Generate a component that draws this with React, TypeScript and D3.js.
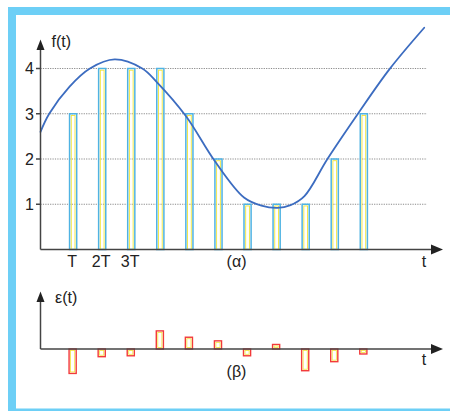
import React from "react";
import * as d3 from "d3";

// Quantized samples at t = k*T (k = 1..11)
const sampleK = [1, 2, 3, 4, 5, 6, 7, 8, 9, 10, 11];
const sampleValues = [3, 4, 4, 4, 3, 2, 1, 1, 1, 2, 3];
// Quantization error ε at each sample
const errorValues = [-0.54, -0.17, -0.15, 0.4, 0.26, 0.18, -0.15, 0.1, -0.48, -0.28, -0.11];
// Continuous signal f(t) (t in units of T)
const curveT = [0, 0.3, 1, 1.7, 2.55, 3.5, 4, 5, 6, 7, 7.6, 8.15, 8.6, 9.08, 9.87, 10.92, 12.0, 13.2];
const curveF = [2.6, 3.0, 3.6, 4.0, 4.2, 4.0, 3.7, 2.95, 1.95, 1.15, 0.97, 0.92, 0.98, 1.18, 2.0, 3.0, 3.98, 4.9];
const yTicks = [1, 2, 3, 4];
const xTickLabels = ["T", "2T", "3T"];

const FONT = "'Liberation Sans', Arial, sans-serif";
const FRAME = "#6dcff6";
const AXIS = "#444";
const BLUE = "#4fb3e3";
const YELLOW = "#f2e53a";
const RED = "#f23a3a";
const CURVE = "#3c6cc0";

export default function App() {
  const x = d3.scaleLinear().domain([0, 14]).range([40.5, 40.5 + 14 * 29.07]);
  const y = d3.scaleLinear().domain([0, 4]).range([249.5, 68.5]);
  const e = d3.scaleLinear().domain([0, 1]).range([349, 349 - 45.25]);
  const barW = 0.245; // in T units

  const line = d3
    .line<number>()
    .x((_, i) => x(curveT[i]))
    .y((d) => y(d))
    .curve(d3.curveCatmullRom.alpha(0.5));

  const xEnd = 443;
  const gridEnd = 427;

  return (
    <svg
      width={450}
      height={411}
      style={{ position: "absolute", left: 0, top: 0, background: "#fff" }}
      fontFamily={FONT}
    >
      {/* frame */}
      <rect x={8} y={7} width={442} height={8} fill={FRAME} />
      <rect x={8} y={7} width={8} height={404} fill={FRAME} />
      <rect x={8} y={408.5} width={442} height={3} fill={FRAME} />

      {/* gridlines */}
      {yTicks.map((v) => (
        <line
          key={"g" + v}
          x1={x(0)}
          x2={gridEnd}
          y1={y(v)}
          y2={y(v)}
          stroke="#8a8a8a"
          strokeWidth={1}
          strokeDasharray="1.2,1.2"
        />
      ))}

      {/* upper bars */}
      {sampleK.map((k, i) => {
        const x0 = x(k);
        const x1 = x(k + barW);
        const yt = y(sampleValues[i]);
        const yb = y(0);
        return (
          <g key={"b" + k}>
            <rect x={x0} y={yt} width={x1 - x0} height={yb - yt} fill="none" stroke={BLUE} strokeWidth={1.5} />
            <rect
              x={x0 + 1.7}
              y={yt + 1.7}
              width={x1 - x0 - 3.4}
              height={yb - yt - 1.7}
              fill="none"
              stroke={YELLOW}
              strokeWidth={0.9}
            />
          </g>
        );
      })}

      {/* curve */}
      <path d={line(curveF) || ""} fill="none" stroke={CURVE} strokeWidth={1.8} strokeLinecap="round" />

      {/* upper axes */}
      <line x1={x(0)} x2={x(0)} y1={y(0)} y2={48} stroke={AXIS} strokeWidth={1.5} />
      <path d={`M${x(0)},39.5 L${x(0) - 4},50 L${x(0) + 4},50 Z`} fill="#222" />
      <line x1={x(0)} x2={xEnd - 8} y1={y(0)} y2={y(0)} stroke={AXIS} strokeWidth={1.5} />
      <path d={`M${xEnd},${y(0)} L${xEnd - 12},${y(0) - 5} L${xEnd - 12},${y(0) + 5} Z`} fill="#222" />
      {yTicks.map((v) => (
        <g key={"t" + v}>
          <line x1={x(0) - 4.5} x2={x(0)} y1={y(v)} y2={y(v)} stroke={AXIS} strokeWidth={1.5} />
          <text x={34} y={y(v) + 5.8} fontSize={16} textAnchor="end" fill="#222">
            {v}
          </text>
        </g>
      ))}
      <text x={51.5} y={46.5} fontSize={16} fill="#222">
        f(t)
      </text>
      {xTickLabels.map((lab, i) => (
        <text key={lab} x={x(i + 1) + 2.5} y={267} fontSize={16} textAnchor="middle" fill="#222">
          {lab}
        </text>
      ))}
      <text x={236.5} y={267} fontSize={16} textAnchor="middle" fill="#222">
        (α)
      </text>
      <text x={424} y={267} fontSize={16} textAnchor="middle" fill="#222">
        t
      </text>

      {/* lower error bars */}
      {sampleK.map((k, i) => {
        const x0 = x(k) - 0.5;
        const x1 = x(k + barW) - 0.5;
        const v = errorValues[i];
        const ya = Math.min(e(v), e(0));
        const h = Math.abs(e(v) - e(0));
        return (
          <g key={"eb" + k}>
            <rect x={x0} y={ya} width={x1 - x0} height={h} fill="none" stroke={RED} strokeWidth={1.4} />
            <rect
              x={x0 + 1.5}
              y={ya + 1.5}
              width={Math.max(0, x1 - x0 - 3)}
              height={Math.max(0, h - 3)}
              fill="none"
              stroke={YELLOW}
              strokeWidth={0.8}
            />
          </g>
        );
      })}

      {/* lower axes */}
      <line x1={x(0)} x2={x(0)} y1={e(0)} y2={300} stroke={AXIS} strokeWidth={1.5} />
      <path d={`M${x(0)},291.5 L${x(0) - 4},302 L${x(0) + 4},302 Z`} fill="#222" />
      <line x1={x(0)} x2={xEnd - 8} y1={e(0)} y2={e(0)} stroke={AXIS} strokeWidth={1.5} />
      <path d={`M${xEnd},${e(0)} L${xEnd - 12},${e(0) - 5} L${xEnd - 12},${e(0) + 5} Z`} fill="#222" />
      <text x={55} y={303} fontSize={16} fill="#222">
        ε(t)
      </text>
      <text x={236.5} y={376.5} fontSize={16} textAnchor="middle" fill="#222">
        (β)
      </text>
      <text x={424} y={365} fontSize={16} textAnchor="middle" fill="#222">
        t
      </text>
    </svg>
  );
}
